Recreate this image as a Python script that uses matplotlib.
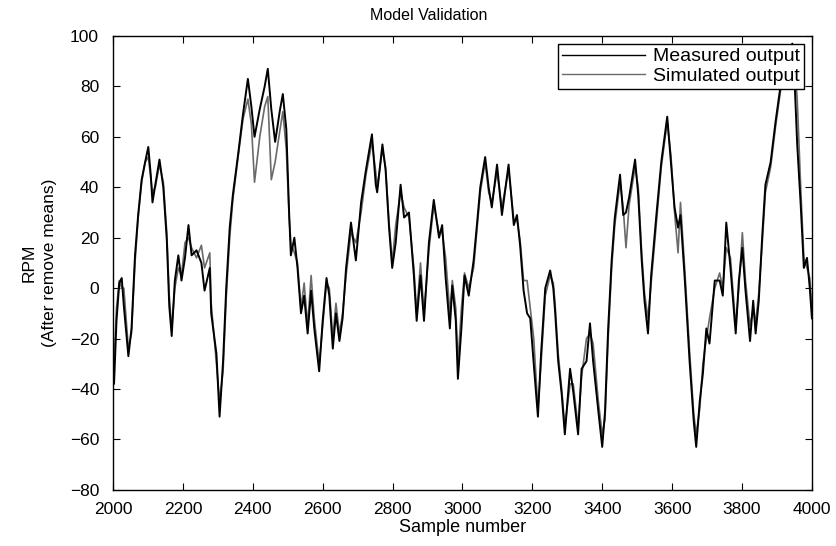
import matplotlib
matplotlib.use("Agg")
import matplotlib.pyplot as plt

# Dades llegides del gràfic (mostres 2000-4000)
mostres = [
    2000, 2003, 2010, 2018, 2025, 2031, 2044, 2053, 2063, 2072,
    2082, 2092, 2101, 2108, 2113, 2121, 2133, 2144, 2154, 2161,
    2168, 2177, 2187, 2196, 2206, 2216, 2225, 2239, 2253, 2262,
    2277, 2281, 2296, 2305, 2315, 2324, 2334, 2343, 2358, 2372,
    2386, 2396, 2405, 2420, 2434, 2443, 2453, 2464, 2477, 2486,
    2496, 2504, 2509, 2519, 2528, 2538, 2547, 2557, 2567, 2576,
    2590, 2600, 2611, 2619, 2629, 2638, 2648, 2657, 2667, 2681,
    2695, 2710, 2724, 2741, 2752, 2756, 2771, 2780, 2790, 2799,
    2809, 2823, 2833, 2847, 2861, 2869, 2880, 2890, 2904, 2918,
    2933, 2942, 2952, 2964, 2971, 2981, 2987, 2997, 3006, 3018,
    3032, 3042, 3051, 3065, 3075, 3084, 3099, 3113, 3132, 3147,
    3156, 3165, 3175, 3185, 3194, 3204, 3216, 3225, 3237, 3251,
    3260, 3265, 3274, 3284, 3293, 3308, 3317, 3331, 3341, 3355,
    3365, 3374, 3389, 3400, 3408, 3417, 3427, 3436, 3451, 3460,
    3468, 3477, 3494, 3503, 3513, 3521, 3531, 3540, 3555, 3569,
    3586, 3597, 3607, 3617, 3624, 3636, 3650, 3662, 3669, 3679,
    3688, 3698, 3707, 3722, 3736, 3745, 3755, 3767, 3782, 3791,
    3801, 3810, 3823, 3832, 3839, 3848, 3858, 3867, 3882, 3896,
    3910, 3925, 3944, 3949, 3958, 3968, 3977, 3986, 3994, 4000,
]

mesurat = [
    -35, -38, -13, 2, 4, -7, -27, -16, 13, 29,
    43, 50, 56, 45, 34, 41, 51, 40, 19, -7,
    -19, 3, 13, 3, 12, 25, 13, 15, 10, -1,
    8, -10, -26, -51, -29, 0, 24, 37, 53, 69,
    83, 72, 60, 71, 80, 87, 71, 58, 70, 77,
    63, 30, 13, 20, 8, -10, -3, -18, -1, -16,
    -33, -13, 4, -3, -24, -10, -21, -12, 8, 26,
    11, 34, 47, 61, 41, 38, 57, 47, 24, 8,
    18, 41, 28, 30, 5, -13, 5, -13, 18, 35,
    20, 25, 4, -16, 1, -13, -36, -16, 5, -3,
    11, 26, 40, 52, 40, 32, 49, 29, 49, 25,
    29, 17, -1, -10, -12, -30, -51, -26, 0, 7,
    0, -9, -29, -42, -58, -32, -41, -58, -32, -29,
    -14, -29, -49, -63, -49, -16, 11, 28, 45, 29,
    30, 36, 51, 37, 11, -5, -18, 5, 29, 50,
    68, 49, 32, 24, 29, 4, -29, -53, -63, -45,
    -34, -16, -22, 3, 3, -3, 26, 8, -18, 3,
    16, -1, -21, -5, -18, -5, 21, 41, 50, 66,
    80, 90, 97, 87, 57, 33, 8, 12, 0, -12,
]

simulat = [
    -22, -30, -8, 3, 0, 0, -24, -18, 10, 28,
    42, 50, 52, 44, 38, 40, 49, 42, 22, -3,
    -16, 0, 8, 5, 18, 20, 16, 12, 17, 8,
    14, -6, -30, -45, -33, -4, 20, 35, 52, 67,
    75, 65, 42, 60, 72, 76, 43, 50, 62, 70,
    55, 28, 18, 14, 10, -8, 2, -15, 5, -12,
    -30, -15, 2, 0, -20, -6, -18, -10, 5, 22,
    18, 30, 45, 58, 46, 40, 55, 48, 26, 10,
    25, 38, 32, 28, 8, -10, 10, -10, 15, 33,
    22, 22, 12, -10, 3, -8, -30, -8, 6, 0,
    8, 24, 38, 50, 38, 34, 46, 32, 47, 27,
    27, 19, 3, 3, -8, -20, -48, -30, -3, 5,
    2, -6, -26, -40, -55, -38, -38, -55, -35, -20,
    -18, -22, -45, -58, -52, -20, 8, 25, 42, 32,
    16, 33, 48, 40, 14, -2, -12, 2, 26, 48,
    66, 52, 30, 14, 34, 8, -25, -50, -58, -48,
    -30, -20, -12, 0, 6, 0, 16, 12, -15, 0,
    22, 3, -15, -8, -14, -2, 18, 38, 48, 64,
    78, 88, 95, 92, 75, 40, 12, 8, 4, -8,
]

assert len(mostres) == len(mesurat) == len(simulat)

plt.rcParams['font.family'] = ['Liberation Sans', 'DejaVu Sans']

fig = plt.figure(figsize=(8.37, 5.46), dpi=100)
ax = fig.add_axes([0.135, 0.103, 0.835, 0.831])

ax.plot(mostres, mesurat, color='black', lw=1.4, label='Measured output', zorder=3)
ax.plot(mostres, simulat, color='#6a6a6a', lw=1.2, label='Simulated output', zorder=2)

ax.set_xlim(2000, 4000)
ax.set_ylim(-80, 100)
ax.set_xticks(range(2000, 4001, 200))
ax.set_yticks(range(-80, 101, 20))
ax.tick_params(direction='in', top=True, right=True, length=5, labelsize=12.5)
ax.tick_params(axis='x', pad=9)
ax.tick_params(axis='y', pad=10)
for s in ax.spines.values():
    s.set_linewidth(1.0)

ax.set_xlabel('Sample number', fontsize=13, labelpad=1)
ax.set_ylabel('RPM\n(After remove means)', fontsize=12.5, labelpad=9, linespacing=1.5)
fig.text(0.512, 0.972, 'Model Validation', ha='center', va='center', fontsize=11.5)

leg = ax.legend(loc='upper right', fontsize=14, handlelength=4.3, fancybox=False,
                framealpha=1, edgecolor='black', borderaxespad=0.4,
                borderpad=0.2, labelspacing=0.1, handletextpad=0.4)
leg.get_frame().set_linewidth(1.0)
for linea in leg.get_lines():
    linea.set_linewidth(1.0)

fig.savefig('out.png', dpi=100)
